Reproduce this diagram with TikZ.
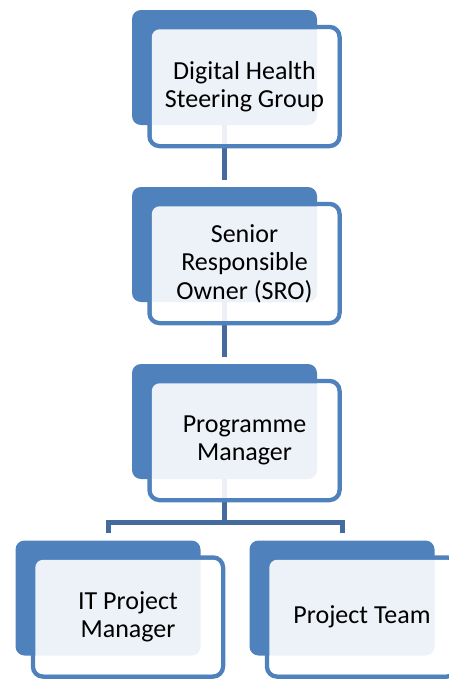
\documentclass[tikz,border=0pt]{standalone}
\usepackage{fontspec}
\setmainfont{Carlito}
\usetikzlibrary{positioning, backgrounds}

\definecolor{chartblue}{RGB}{79,129,189}
\definecolor{linkblue}{RGB}{69,106,157}

\begin{document}
\begin{tikzpicture}[x=1pt, y=-1pt, thick]
        % Define block styles
        \tikzstyle{frame} = [rectangle, draw=chartblue, line width=4.5pt, rounded corners=10pt, minimum width=190pt, minimum height=119pt]
        \tikzstyle{back} = [rectangle, fill=chartblue, rounded corners=9pt, minimum width=185pt, minimum height=115pt]
        \tikzstyle{textbox} = [rectangle, fill=white, fill opacity=0.9, text opacity=1, rounded corners=8pt, minimum width=185.5pt, minimum height=114.5pt, align=center, font=\fontsize{26}{28.5}\selectfont]
        \tikzstyle{link} = [draw=linkblue, line width=5pt]

        \useasboundingbox (0,0) rectangle (449,680);

        % Place outlined frames
        \node [frame] (dhsg) at (244.5,86.5) {};
        \node [frame] (sro) at (244.5,263.5) {};
        \node [frame] (pm) at (244.5,440.5) {};
        \node [frame] (itpm) at (128,617) {};
        \node [frame] (team) at (362,617) {};

        % Place filled blocks behind the text
        \node [back] (dhsg-back) at ([shift={(-20,-19)}]dhsg) {};
        \node [back] (sro-back) at ([shift={(-20,-19)}]sro) {};
        \node [back] (pm-back) at ([shift={(-20,-19)}]pm) {};
        \node [back] (itpm-back) at ([shift={(-20,-19)}]itpm) {};
        \node [back] (team-back) at ([shift={(-20,-19)}]team) {};

        % Place text boxes
        \node [textbox] (dhsg-text) at (dhsg) {Digital Health\\Steering Group};
        \node [textbox] (sro-text) at (sro) {Senior\\Responsible\\Owner (SRO)};
        \node [textbox] (pm-text) at (pm) {Programme\\Manager};
        \node [textbox] (itpm-text) at (itpm) {IT Project\\Manager};
        \node [textbox] (team-text) at (team) {Project Team};

        \coordinate [below=43pt of pm-back.south] (split);

        % Draw connections
        \begin{scope}[on background layer]
            \draw [link, shorten >=7pt] (dhsg-back) -- (sro-back);
            \draw [link, shorten >=7pt] (sro-back) -- (pm-back);
            \draw [link] (pm-back) -- (split);
            \draw [link, shorten >=7pt] (split) -| (itpm-back);
            \draw [link, shorten >=7pt] (split) -| (team-back);
        \end{scope}

    \end{tikzpicture}
\end{document}
